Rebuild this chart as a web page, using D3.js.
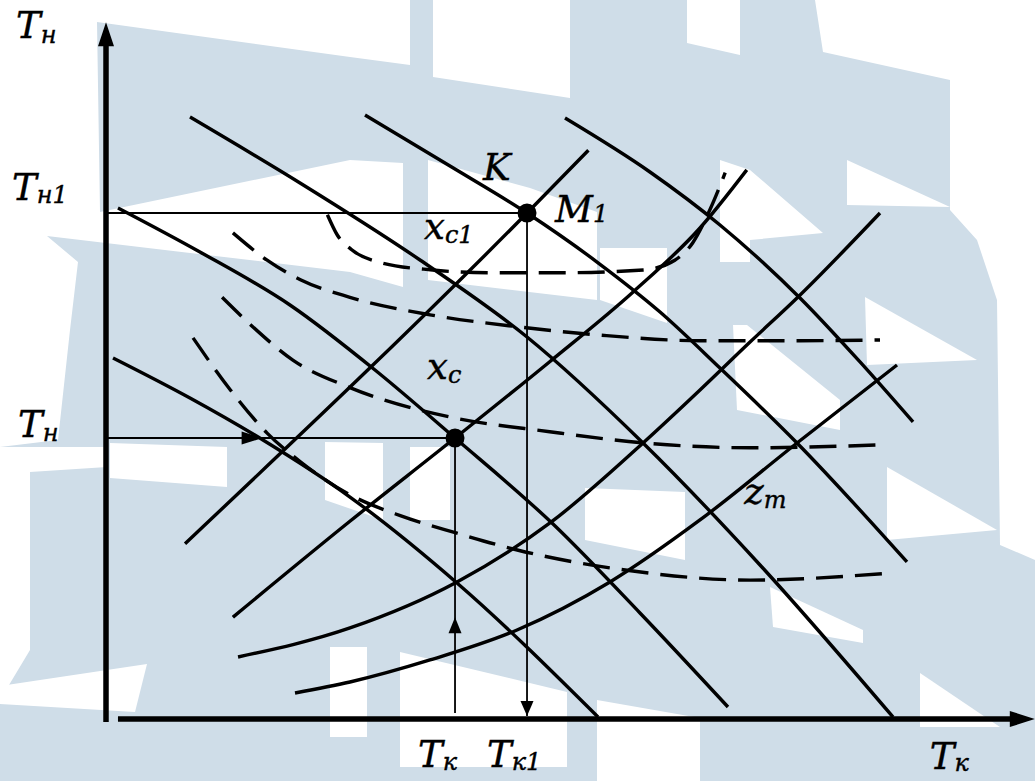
<!DOCTYPE html>
<html>
<head>
<meta charset="utf-8">
<script src="https://cdn.jsdelivr.net/npm/d3@7"></script>
<style>
  html, body { margin: 0; padding: 0; background: #ffffff; }
  svg { display: block; }
</style>
</head>
<body>
<svg id="chart" width="1035" height="781"></svg>
<script>
// ---- Diagram data: Tк along the horizontal axis, Tн along the vertical (relative units 0–100) ----

// Descending solid curves (constant-K family)
const curveK0 = [[51.0,85.71],[60.44,78.0],[68.22,70.43],[77.11,60.0],[83.78,50.86],[89.67,42.29]];
const curveK  = [[28.78,86.14],[38.22,78.86],[46.78,72.14],[54.56,65.14],[61.56,58.0],[68.22,50.0],[76.78,39.29],[89.0,22.29]];
const curveK2 = [[9.33,85.86],[21.56,76.43],[34.89,65.43],[46.78,54.43],[59.67,39.29],[72.67,21.86],[87.44,0.14]];
const curveK3 = [[1.33,72.86],[10.44,66.57],[20.44,59.0],[29.89,49.71],[38.78,40.0],[49.67,27.71],[59.33,15.0],[69.11,1.57]];
const curveK4 = [[0.78,51.43],[9.33,45.71],[17.44,39.71],[27.11,31.57],[39.0,19.29],[54.67,0.14]];

// Ascending solid lines
const lineA1 = [[8.78,24.9],[46.78,72.14],[53.6,81.1]];
const lineA2 = [[14.1,14.4],[27.1,28.1],[38.78,40.0],[49.3,50.9],[58.6,60.9],[66.0,70.0],[71.2,78.3]];

// Ascending convex curves (z family, lower one is z_m)
const curveZ  = [[14.67,8.71],[27.11,12.86],[39.0,19.43],[49.33,27.86],[59.67,39.29],[66.0,46.86],[71.56,53.71],[76.78,60.0],[86.0,72.14]];
const curveZm = [[21.0,3.57],[27.11,5.14],[36.0,8.29],[45.67,12.57],[56.0,19.43],[66.0,28.29],[76.78,39.29],[87.89,50.43]];

// Dashed curves (constant x_c family)
const dashXc1 = [[24.6,71.9],[25.7,69.0],[27.3,66.9],[30.4,65.1],[36.3,64.0],[42.7,63.6],[50.4,63.6],[59.7,64.0],[63.2,65.4],[65.2,67.9],[67.1,72.6],[68.8,77.9]];
const dashXcA = [[14.1,69.3],[17.9,65.4],[21.6,62.6],[27.1,60.1],[36.0,57.6],[45.7,55.9],[54.9,54.7],[66.0,53.9],[77.1,53.9],[86.0,54.0]];
const dashXc  = [[12.9,60.1],[16.3,55.9],[20.8,51.1],[27.1,47.2],[38.2,43.0],[49.3,40.9],[59.7,39.3],[71.6,38.6],[85.7,39.0]];
const dashXcB = [[9.67,54.3],[13.8,46.9],[17.9,40.7],[21.6,36.6],[27.1,31.9],[32.7,28.9],[39.0,26.4],[45.7,24.0],[57.9,21.1],[71.6,19.7],[87.1,20.7]];

// Operating points
const pointM1 = [46.78, 72.14];   // (Tк1, Tн1)
const pointM  = [38.78, 40.0];    // (Tк, Tн)
const arrowTnAt = 17.4;           // arrow on the Tн guide line (Tк units)
const arrowTkAt = 14.4;           // arrow on the Tк guide line (Tн units)
const axisEnd = { x: 103.2, y: 99.4, xStart: 1.33 };

// Axis / point labels: [main, subscript]
const labelsY = [["T", "н"], ["T", "н1"], ["T", "н"]];
const labelsX = [["T", "к"], ["T", "к1"], ["T", "к"]];
const labelK = "K", labelM1 = ["M", "1"], labelXc1 = ["x", "c1"], labelXc = ["x", "c"], labelZm = ["z", "m"];

// Faint backdrop pattern (white cut-outs over a pale blue ground), pixel outlines
const backdropWhite = [
  [[0,0],[410,0],[410,65],[350,57],[97,22],[100,212],[350,160],[403,163],[403,287],[350,272],[47,236],[78,262],[70,330],[58,440],[0,447]],
  [[0,447],[107,447],[107,467],[30,472],[30,650],[0,700]],
  [[110,443],[227,447],[227,487],[110,478]],
  [[0,686],[147,664],[135,712],[0,704]],
  [[433,0],[570,0],[570,98],[433,77]],
  [[687,0],[740,0],[740,55],[687,43]],
  [[815,0],[1035,0],[1035,560],[1000,545],[997,300],[977,240],[950,210],[950,80],[823,52]],
  [[428,160],[530,188],[597,212],[597,300],[428,280]],
  [[600,248],[667,248],[667,323],[600,300]],
  [[720,160],[750,170],[823,233],[750,240],[750,262],[720,262]],
  [[847,160],[950,207],[847,205]],
  [[733,325],[747,325],[840,400],[840,430],[737,410]],
  [[865,297],[977,360],[867,365]],
  [[887,467],[997,530],[887,540]],
  [[770,587],[863,630],[863,643],[773,627]],
  [[920,673],[1000,727],[920,727]],
  [[585,488],[685,492],[685,560],[585,540]],
  [[325,442],[383,443],[383,520],[325,500]],
  [[410,447],[450,447],[450,520],[410,520]],
  [[330,647],[367,647],[367,737],[330,737]],
  [[400,652],[567,692],[567,767],[400,767]],
  [[597,700],[700,718],[700,781],[597,781]]
];

// ---- Drawing ----
const svg = d3.select("#chart");
const W = 1035, H = 781;
const x = d3.scaleLinear().domain([0, 100]).range([106, 1006]);
const y = d3.scaleLinear().domain([0, 100]).range([718, 18]);

// backdrop
svg.append("rect").attr("width", W).attr("height", H).attr("fill", "#cfdde8");
svg.append("g").selectAll("polygon").data(backdropWhite).join("polygon")
  .attr("points", d => d.map(p => p.join(",")).join(" "))
  .attr("fill", "#ffffff");

const smooth = d3.line().x(d => x(d[0])).y(d => y(d[1])).curve(d3.curveMonotoneX);
const plot = svg.append("g");

// solid curves
[curveK0, curveK, curveK2, curveK3, curveK4, lineA1, lineA2, curveZ, curveZm].forEach(c => {
  plot.append("path").attr("d", smooth(c)).attr("fill", "none")
    .attr("stroke", "#000").attr("stroke-width", 3.4);
});

// dashed curves
[dashXc1, dashXcA, dashXc, dashXcB].forEach(c => {
  plot.append("path").attr("d", smooth(c)).attr("fill", "none")
    .attr("stroke", "#000").attr("stroke-width", 3.4).attr("stroke-dasharray", "27,12");
});

// guide lines from the operating points
function seg(x1, y1, x2, y2) {
  plot.append("line").attr("x1", x1).attr("y1", y1).attr("x2", x2).attr("y2", y2)
    .attr("stroke", "#000").attr("stroke-width", 1.8);
}
seg(x(0), y(pointM1[1]), x(pointM1[0]), y(pointM1[1]));
seg(x(pointM1[0]), y(pointM1[1]), x(pointM1[0]), y(0) - 2);
seg(x(0), y(pointM[1]), x(pointM[0]), y(pointM[1]));
seg(x(pointM[0]), y(pointM[1]), x(pointM[0]), y(0) - 5);

function tri(pts) {
  plot.append("polygon").attr("points", pts.map(p => p.join(",")).join(" ")).attr("fill", "#000");
}
const ax = x(arrowTnAt), ay = y(pointM[1]);
tri([[ax, ay], [ax - 21, ay - 6.5], [ax - 21, ay + 6.5]]);
const ux = x(pointM[0]), uy = y(arrowTkAt);
tri([[ux, uy], [ux - 6.5, uy + 16], [ux + 6.5, uy + 16]]);
const dx = x(pointM1[0]), dy = y(0) - 2;
tri([[dx, dy], [dx - 6.5, dy - 15], [dx + 6.5, dy - 15]]);

// operating points
[pointM1, pointM].forEach(p => {
  plot.append("circle").attr("cx", x(p[0])).attr("cy", y(p[1])).attr("r", 9.5).attr("fill", "#000");
});

// axes
const axes = svg.append("g");
axes.append("line").attr("x1", x(0)).attr("y1", y(0) + 4).attr("x2", x(0)).attr("y2", y(axisEnd.y) + 18)
  .attr("stroke", "#000").attr("stroke-width", 5.5);
axes.append("polygon").attr("points", [[x(0), y(axisEnd.y)], [x(0) - 8, y(axisEnd.y) + 24], [x(0) + 8, y(axisEnd.y) + 24]].map(p => p.join(",")).join(" "))
  .attr("fill", "#000");
axes.append("line").attr("x1", x(axisEnd.xStart)).attr("y1", y(0) + 1).attr("x2", x(axisEnd.x) - 20).attr("y2", y(0) + 1)
  .attr("stroke", "#000").attr("stroke-width", 5.5);
axes.append("polygon").attr("points", [[x(axisEnd.x), y(0) + 1], [x(axisEnd.x) - 25, y(0) - 7], [x(axisEnd.x) - 25, y(0) + 9]].map(p => p.join(",")).join(" "))
  .attr("fill", "#000");

// labels (serif italic)
const FONT = "DejaVu Serif";
const MAIN = 37, SUB = 24;
function label(px, py, parts, subDy) {
  const t = svg.append("text").attr("x", px).attr("y", py)
    .style("font-family", FONT).style("font-style", "italic").style("font-size", MAIN + "px")
    .attr("fill", "#000").attr("stroke", "#000").attr("stroke-width", 0.4);
  t.append("tspan").text(parts[0]);
  if (parts[1]) t.append("tspan").style("font-size", SUB + "px").attr("dy", subDy === undefined ? 4 : subDy).text(parts[1]);
}
label(x(0) - 90, y(axisEnd.y) + 16, labelsY[0], 5);
label(x(0) - 94, y(pointM1[1]) - 13, labelsY[1], 3);
label(x(0) - 88, y(pointM[1]) - 1, labelsY[2], 4);
label(x(pointM[0]) - 37, y(0) + 49, labelsX[0], 3);
label(x(pointM1[0]) - 40, y(0) + 49, labelsX[1], 3);
label(x(axisEnd.x) - 105, y(0) + 51, labelsX[2], 2);
label(x(pointM1[0]) - 44, y(pointM1[1]) - 33, [labelK]);
label(x(pointM1[0]) + 28, y(pointM1[1]) + 9, labelM1, 0);
label(x(pointM[0]) - 31, y(pointM1[1]) + 26, labelXc1, 4);
label(x(pointM[0]) - 28, y(pointM[1]) - 59, labelXc, 4);
label(x(76.8) - 53, y(pointM[1]) + 66, labelZm, 4);
</script>
</body>
</html>
